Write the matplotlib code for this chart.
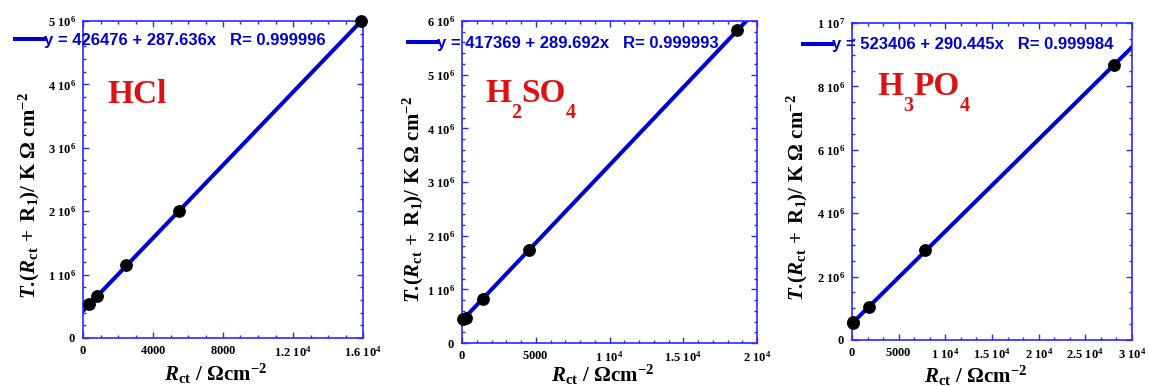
import matplotlib
matplotlib.use('Agg')
import matplotlib.pyplot as plt
from matplotlib.ticker import MultipleLocator
from matplotlib.transforms import offset_copy

plt.rcParams['font.family'] = 'Liberation Serif'
plt.rcParams['font.weight'] = 'bold'
plt.rcParams['mathtext.fontset'] = 'custom'
plt.rcParams['mathtext.rm'] = 'Liberation Serif:bold'
plt.rcParams['mathtext.bf'] = 'Liberation Serif:bold'
plt.rcParams['mathtext.it'] = 'Liberation Serif:italic:bold'
plt.rcParams['mathtext.bfit'] = 'Liberation Serif:italic:bold'

# --- data ---
# acid names as (text, is_subscript) pieces
acid_names = [[('HCl', False)],
              [('H', False), ('2', True), ('SO', False), ('4', True)],
              [('H', False), ('3', True), ('PO', False), ('4', True)]]

hcl_rct = [340, 800, 2480, 5460, 15900]
hcl_y = [0.54e6, 0.656e6, 1.144e6, 2.0e6, 5.0e6]
h2so4_rct = [60, 260, 1440, 4510, 18630]
h2so4_y = [0.44e6, 0.47e6, 0.825e6, 1.737e6, 5.83e6]
h3po4_rct = [60, 160, 1780, 7800, 28040]
h3po4_y = [0.54e6, 0.57e6, 1.03e6, 2.836e6, 8.666e6]

# linear fits: intercept, slope, R
intercepts = [426476, 417369, 523406]
slopes = [287.636, 289.692, 290.445]
r_values = ['0.999996', '0.999993', '0.999984']

x_limits = [16000, 20000, 30000]
y_limits = [5e6, 6e6, 1e7]
x_ticks = [[0, 4000, 8000, 12000, 16000],
           [0, 5000, 10000, 15000, 20000],
           [0, 5000, 10000, 15000, 20000, 25000, 30000]]
x_ticklabels = [['0', '4000', '8000', r'1.2 10^{4}', r'1.6 10^{4}'],
                ['0', '5000', r'1 10^{4}', r'1.5 10^{4}', r'2 10^{4}'],
                ['0', '5000', r'1 10^{4}', r'1.5 10^{4}', r'2 10^{4}', r'2.5 10^{4}', r'3 10^{4}']]
y_ticks = [[0, 1e6, 2e6, 3e6, 4e6, 5e6],
           [0, 1e6, 2e6, 3e6, 4e6, 5e6, 6e6],
           [0, 2e6, 4e6, 6e6, 8e6, 1e7]]
y_ticklabels = [['0', r'1 10^{6}', r'2 10^{6}', r'3 10^{6}', r'4 10^{6}', r'5 10^{6}'],
                ['0', r'1 10^{6}', r'2 10^{6}', r'3 10^{6}', r'4 10^{6}', r'5 10^{6}', r'6 10^{6}'],
                ['0', r'2 10^{6}', r'4 10^{6}', r'6 10^{6}', r'8 10^{6}', r'1 10^{7}']]
x_minor = [1000, 1000, 5000 / 3]
y_minor = [2e5, 2e5, 5e5]

# --- layout (pixels) ---
W, H = 1149, 386
boxes = [(83, 363, 21, 338), (462, 757, 21, 343), (852, 1132, 23, 340)]
legend_anchor = [(15, 40), (408, 43), (803, 45)]
name_pos = [(0.086, 0.741), (0.078, 0.748), (0.089, 0.773)]
ylabel_pos = [(-0.146, 0.448), (-0.122, 0.446), (-0.15, 0.45)]
xlabel_pos = [(0.475, -0.074), (0.475, -0.061), (0.443, -0.074)]

series = [(hcl_rct, hcl_y), (h2so4_rct, h2so4_y), (h3po4_rct, h3po4_y)]

fig = plt.figure(figsize=(W / 100, H / 100), dpi=100)
renderer = fig.canvas.get_renderer()
spine_blue = '#2a2aff'
line_blue = '#0000d0'
name_red = '#dd1111'


def chem_label(ax, x, y, pieces):
    # write a formula piece by piece so the subscripts drop well below the line
    dx = 0
    for text, sub in pieces:
        tr = offset_copy(ax.transAxes, fig=fig, x=dx, y=-11.5 if sub else 0, units='points')
        t = ax.text(x, y, text, transform=tr, fontsize=14.5 if sub else 24,
                    color=name_red, ha='left', va='baseline')
        dx += t.get_window_extent(renderer).width * 72 / fig.dpi


for i in range(3):
    l, r, t, b = boxes[i]
    ax = fig.add_axes([l / W, (H - b) / H, (r - l) / W, (b - t) / H])
    xs, ys = series[i]
    fit_label = 'y = %d + %.3fx   R= %s' % (intercepts[i], slopes[i], r_values[i])
    ax.axline((0, intercepts[i]), slope=slopes[i], color=line_blue, lw=2.9,
              label=fit_label, zorder=2)
    ax.plot(xs, ys, 'o', color='black', ms=8.2, zorder=3, clip_on=False)
    ax.set_xlim(0, x_limits[i])
    ax.set_ylim(0, y_limits[i])

    ax.set_xticks(x_ticks[i])
    ax.set_xticklabels(['$\\mathbf{%s}$' % s.replace(' ', '\\ ') for s in x_ticklabels[i]])
    ax.set_yticks(y_ticks[i])
    ax.set_yticklabels(['$\\mathbf{%s}$' % s.replace(' ', '\\ ') for s in y_ticklabels[i]])
    ax.xaxis.set_minor_locator(MultipleLocator(x_minor[i]))
    ax.yaxis.set_minor_locator(MultipleLocator(y_minor[i]))
    ax.tick_params(which='both', direction='in', top=True, right=True,
                   color=spine_blue, labelsize=9, width=1)
    ax.tick_params(which='major', length=4, pad=5)
    ax.tick_params(which='minor', length=2.2)
    for sp in ax.spines.values():
        sp.set_color(spine_blue)
        sp.set_linewidth(1.2)

    ax.set_ylabel(r'$\mathbfit{T}\mathbf{.}\!\mathbf{(}\mathbfit{R}_{\mathbf{ct}}\mathbf{\,+\ R_1)/\ K\ \Omega\ cm^{-2}}$',
                  fontsize=15)
    ax.yaxis.set_label_coords(*ylabel_pos[i])
    ax.set_xlabel(r'$\mathbfit{R}_{\mathbf{ct}}\mathbf{\ /\ \Omega cm^{-2}}$', fontsize=15)
    ax.xaxis.set_label_coords(*xlabel_pos[i])

    chem_label(ax, name_pos[i][0], name_pos[i][1], acid_names[i])

    lx, ly = legend_anchor[i]
    leg = ax.legend(loc='center left',
                    bbox_to_anchor=((lx - l) / (r - l), (b - ly) / (b - t)),
                    frameon=False, handlelength=1.75, handletextpad=0.0,
                    borderpad=0, borderaxespad=0,
                    prop={'family': 'Liberation Sans', 'weight': 'bold', 'size': 12})
    for txt in leg.get_texts():
        txt.set_color(line_blue)

fig.savefig('out.png', dpi=100)
